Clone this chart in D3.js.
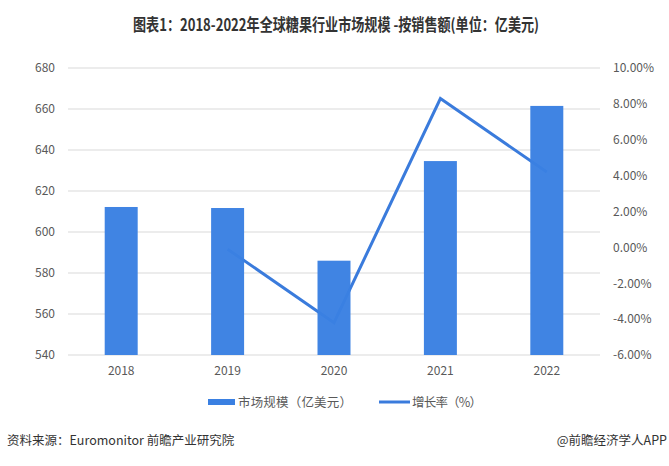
<!DOCTYPE html>
<html><head><meta charset="utf-8">
<script src="https://cdn.jsdelivr.net/npm/d3@7/dist/d3.min.js"></script>
<style>body{margin:0;background:#fff;}svg{display:block;}</style>
</head><body>
<svg id="c" width="669" height="466"></svg>
<script>
const years = ["2018","2019","2020","2021","2022"];
const marketSize = [612.2, 611.7, 586.0, 634.6, 661.5];
const growthRate = [null, -0.1, -4.2, 8.3, 4.2];
const leftTicks = [540,560,580,600,620,640,660,680];
const rightTicks = [-6,-4,-2,0,2,4,6,8,10];
const title = "图表1：2018-2022年全球糖果行业市场规模 -按销售额(单位：亿美元)";
const legendLabels = ["市场规模（亿美元）","增长率（%）"];
const sourceText = "资料来源：Euromonitor 前瞻产业研究院";
const creditText = "@前瞻经济学人APP";

const svg = d3.select("#c");
const font = "'Noto Sans CJK SC','Noto Sans',sans-serif";
const L = 68, R = 600, T = 68, B = 355;
const blue = "#3a80e2";

const x = d3.scaleBand().domain(years).range([L, R]).paddingInner(0.69).paddingOuter(0.345);
const yL = d3.scaleLinear().domain([540, 680]).range([B, T]);
const yR = d3.scaleLinear().domain([-6, 10]).range([B, T]);

svg.append("text").attr("x", 336).attr("y", 31).attr("text-anchor", "middle")
  .attr("font-family", font).attr("font-weight", "bold").attr("font-size", 16.5)
  .attr("fill", "#333").attr("textLength", 406).attr("lengthAdjust", "spacingAndGlyphs").text(title);

// grid
svg.append("g").selectAll("line").data(leftTicks).join("line")
  .attr("x1", L).attr("x2", R).attr("y1", d => yL(d)).attr("y2", d => yL(d))
  .attr("stroke", "#d9d9d9").attr("stroke-width", 1);

// left axis
const gL = svg.append("g").attr("transform", `translate(${L},0)`)
  .call(d3.axisLeft(yL).tickValues(leftTicks).tickSize(0).tickPadding(13));
gL.select(".domain").remove();
gL.selectAll("text").attr("font-family", font).attr("font-size", 12).attr("fill", "#595959");

// right axis
const gR = svg.append("g").attr("transform", `translate(${R},0)`)
  .call(d3.axisRight(yR).tickValues(rightTicks).tickSize(0).tickPadding(13).tickFormat(d => d.toFixed(2) + "%"));
gR.select(".domain").remove();
gR.selectAll("text").attr("font-family", font).attr("font-size", 12).attr("fill", "#595959");

// x axis
const gX = svg.append("g").attr("transform", `translate(0,${B})`)
  .call(d3.axisBottom(x).tickSize(0).tickPadding(11));
gX.select(".domain").remove();
gX.selectAll("text").attr("font-family", font).attr("font-size", 12).attr("fill", "#595959");

// line (behind bars)
const pts = years.map((y, i) => ({y, v: growthRate[i]})).filter(d => d.v !== null);
svg.append("path").datum(pts)
  .attr("d", d3.line().x(d => x(d.y) + x.bandwidth()/2).y(d => yR(d.v)))
  .attr("fill", "none").attr("stroke", "#3a7bdc").attr("stroke-width", 3).attr("stroke-linejoin", "miter");

// bars
svg.append("g").selectAll("rect").data(years).join("rect")
  .attr("x", d => x(d)).attr("width", x.bandwidth())
  .attr("y", (d, i) => yL(marketSize[i])).attr("height", (d, i) => B - yL(marketSize[i]))
  .attr("fill", blue).attr("fill-opacity", 0.97);

// legend
svg.append("rect").attr("x", 208).attr("y", 399).attr("width", 27).attr("height", 6).attr("fill", blue);
svg.append("text").attr("x", 238).attr("y", 406.5).attr("font-family", font).attr("font-size", 12.5)
  .attr("fill", "#595959").attr("textLength", 114).attr("lengthAdjust", "spacing").text(legendLabels[0]);
svg.append("line").attr("x1", 379).attr("x2", 410).attr("y1", 402).attr("y2", 402)
  .attr("stroke", "#3a7bdc").attr("stroke-width", 3);
svg.append("text").attr("x", 412).attr("y", 406.5).attr("font-family", font).attr("font-size", 12.5)
  .attr("fill", "#595959").attr("textLength", 70).attr("lengthAdjust", "spacing").text(legendLabels[1]);

// footer
svg.append("text").attr("x", 7).attr("y", 445).attr("font-family", font).attr("font-size", 12.5)
  .attr("fill", "#333").text(sourceText);
svg.append("text").attr("x", 667).attr("y", 445).attr("text-anchor", "end").attr("font-family", font).attr("font-size", 12.5)
  .attr("fill", "#333").text(creditText);
</script>
</body></html>
